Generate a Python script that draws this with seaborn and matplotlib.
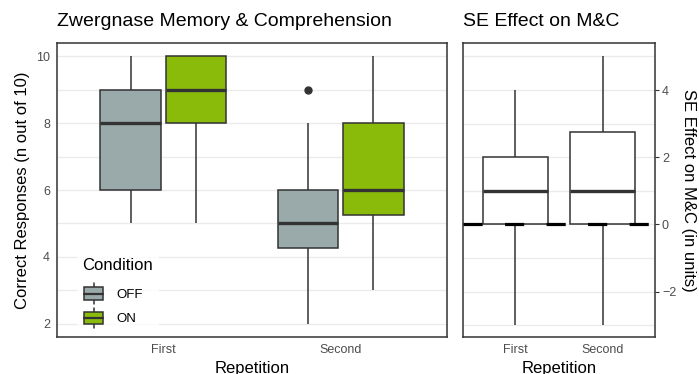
import numpy as np
import pandas as pd
import matplotlib
matplotlib.use("Agg")
import matplotlib.pyplot as plt
from matplotlib.legend_handler import HandlerBase
from matplotlib.patches import Rectangle
from matplotlib.lines import Line2D
import seaborn as sns

# ==============================
# DATA
# ==============================
repetitions = ["First", "Second"]
conditions = ["OFF", "ON"]

first_off = [5, 6, 8, 9, 10]
first_on = [5, 8, 9, 10, 10]
second_off = [2, 4, 4, 5, 5, 5, 6, 6, 8, 9]
second_on = [3, 5, 5, 6, 6, 6, 8, 8, 9, 10]

effect_first = [-3, 0, 1, 2, 4]
effect_second = [-3, 0, 0, 0, 1, 1, 2, 3, 4, 5]

cond_colors = {"OFF": "#9AA9A9", "ON": "#8BBB0A"}
edge = "#333333"

rows = []
for rep, cond, vals in [("First", "OFF", first_off), ("First", "ON", first_on),
                        ("Second", "OFF", second_off), ("Second", "ON", second_on)]:
    for v in vals:
        rows.append({"Repetition": rep, "Condition": cond, "Correct": v})
df = pd.DataFrame(rows)

rows = []
for rep, vals in [("First", effect_first), ("Second", effect_second)]:
    for v in vals:
        rows.append({"Repetition": rep, "Effect": v})
df_eff = pd.DataFrame(rows)

# ==============================
# FIGURE
# ==============================
sns.set_theme(style="white")
plt.rcParams["font.family"] = ["Liberation Sans", "DejaVu Sans"]
plt.rcParams["text.color"] = "black"
plt.rcParams["axes.labelcolor"] = "black"

W, H = 699, 374
fig = plt.figure(figsize=(W / 100, H / 100), dpi=100)
fig.patch.set_facecolor("white")


def px_axes(x0, y0, x1, y1):
    return fig.add_axes([x0 / W, 1 - y1 / H, (x1 - x0) / W, (y1 - y0) / H])


ax1 = px_axes(57, 43, 447, 337)
ax2 = px_axes(463, 43, 655, 337)

box_kw = dict(linecolor=edge, linewidth=1.1, showcaps=False,
              medianprops=dict(linewidth=2.4, color=edge),
              whiskerprops=dict(linewidth=1.1, color=edge),
              flierprops=dict(marker="o", markerfacecolor=edge, markeredgecolor=edge,
                              markersize=5))

sns.boxplot(data=df, x="Repetition", y="Correct", hue="Condition",
            order=repetitions, hue_order=conditions, palette=cond_colors,
            saturation=1, width=0.74, gap=0.08, ax=ax1, legend=False, **box_kw)

sns.boxplot(data=df_eff, x="Repetition", y="Effect", order=repetitions,
            color="white", saturation=1, width=0.75, ax=ax2, **box_kw)
ax2.axhline(0, color="black", lw=2.3, ls=(0, (6, 7)), zorder=4)

# axes styling (theme_bw-like)
for ax in (ax1, ax2):
    ax.set_xlim(-0.6, 1.6)
    for s in ax.spines.values():
        s.set_color(edge)
        s.set_linewidth(1.1)
    ax.tick_params(axis="both", which="both", length=3, width=0.8, color=edge,
                   labelsize=9, labelcolor="#4D4D4D", pad=2)
    ax.set_axisbelow(True)
    ax.grid(True, which="both", axis="y", color="#EBEBEB", lw=1.0)

ax1.set_ylim(1.6, 10.4)
ax1.set_yticks([2, 4, 6, 8, 10])
ax1.set_yticks([3, 5, 7, 9], minor=True)
ax1.tick_params(axis="y", which="minor", length=0)
ax1.set_xlabel("Repetition", fontsize=12, labelpad=4)
ax1.set_ylabel("Correct Responses (n out of 10)", fontsize=12, labelpad=4)

ax2.set_ylim(-3.35, 5.4)
ax2.set_yticks([-2, 0, 2, 4])
ax2.set_yticks([-3, -1, 1, 3, 5], minor=True)
ax2.tick_params(axis="y", which="minor", length=0)
ax2.yaxis.tick_right()
ax2.yaxis.set_label_position("right")
ax2.set_xlabel("Repetition", fontsize=12, labelpad=4)
ax2.set_ylabel("SE Effect on M&C (in units)", fontsize=12, rotation=-90, labelpad=14)

fig.text(57 / W, 1 - 21 / H, "Zwergnase Memory & Comprehension", fontsize=14,
         ha="left", va="center")
fig.text(463 / W, 1 - 21 / H, "SE Effect on M&C", fontsize=14, ha="left", va="center")


# legend with boxplot-style keys
class BoxKey(HandlerBase):
    def create_artists(self, legend, orig_handle, xdescent, ydescent, width, height,
                       fontsize, trans):
        fc = orig_handle.get_facecolor()
        w = height * 1.5
        x0 = xdescent + (width - w) / 2
        rect = Rectangle((x0, -ydescent), w, height, facecolor=fc, edgecolor=edge,
                         lw=1.1, transform=trans)
        cx = x0 + w / 2
        med = Line2D([x0, x0 + w], [-ydescent + height / 2] * 2, color=edge, lw=1.6,
                     transform=trans)
        top = Line2D([cx, cx], [-ydescent + height, -ydescent + height * 1.3],
                     color=edge, lw=1.1, transform=trans)
        bot = Line2D([cx, cx], [-ydescent, -ydescent - height * 0.3], color=edge,
                     lw=1.1, transform=trans)
        return [top, bot, rect, med]


handles = [Rectangle((0, 0), 1, 1, facecolor=cond_colors[c]) for c in conditions]
leg = ax1.legend(handles, conditions, title="Condition", handler_map={Rectangle: BoxKey()},
                 loc="lower left", bbox_to_anchor=(70 / W, 1 - 338 / H),
                 bbox_transform=fig.transFigure, frameon=True, fontsize=9.5,
                 title_fontsize=12, handlelength=1.7, handleheight=1.1,
                 labelspacing=0.8, borderpad=0.45, handletextpad=0.9)
leg._legend_box.align = "left"
leg._legend_box.sep = 10
leg.get_frame().set_facecolor("white")
leg.get_frame().set_edgecolor("none")
leg.get_frame().set_boxstyle("square", pad=0)

fig.savefig("out.png", dpi=100, facecolor="white")
